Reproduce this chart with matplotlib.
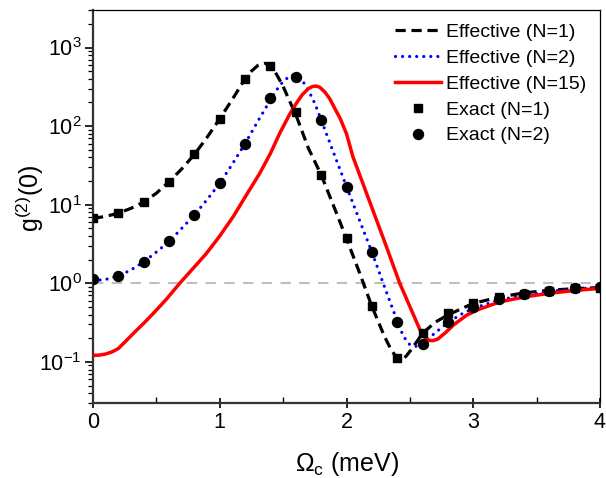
import matplotlib
matplotlib.use("Agg")
import matplotlib.pyplot as plt
from matplotlib.ticker import LogLocator, MultipleLocator, NullFormatter

plt.rcParams['font.family'] = ['Liberation Sans', 'DejaVu Sans']
plt.rcParams['mathtext.fontset'] = 'custom'
plt.rcParams['mathtext.rm'] = 'Liberation Sans'
plt.rcParams['mathtext.it'] = 'Liberation Sans:italic'

# Effective N=1 (dashed black)
x_eff1 = [0, 0.1, 0.2, 0.3, 0.4, 0.5, 0.6, 0.7, 0.8, 0.9, 1.0, 1.1, 1.2, 1.25, 1.3, 1.35,
          1.4, 1.45, 1.5, 1.55, 1.6, 1.7, 1.8, 1.9, 2.0, 2.1, 2.2, 2.3, 2.35, 2.4, 2.43,
          2.47, 2.52, 2.6, 2.7, 2.8, 2.9, 3.0, 3.2, 3.4, 3.6, 3.8, 4.0]
y_eff1 = [6.7, 7.1, 7.8, 9.0, 10.8, 14.0, 19.6, 28.5, 43.6, 72, 124, 220, 400, 500, 590, 630,
          600, 450, 320, 210, 140, 52, 24, 9.5, 3.7, 1.4, 0.51, 0.21, 0.145, 0.11, 0.106,
          0.118, 0.15, 0.231, 0.32, 0.395, 0.47, 0.555, 0.665, 0.755, 0.815, 0.855, 0.88]

# Effective N=2 (dotted blue)
x_eff2 = [0, 0.1, 0.2, 0.3, 0.4, 0.5, 0.6, 0.7, 0.8, 0.9, 1.0, 1.1, 1.2, 1.3, 1.4, 1.45,
          1.5, 1.55, 1.58, 1.62, 1.68, 1.75, 1.8, 1.9, 2.0, 2.1, 2.2, 2.3, 2.4, 2.45, 2.5,
          2.55, 2.6, 2.7, 2.8, 2.9, 3.0, 3.2, 3.4, 3.6, 3.8, 4.0]
y_eff2 = [1.08, 1.12, 1.24, 1.48, 1.87, 2.5, 3.4, 5.0, 7.4, 11.6, 18.7, 33, 60, 115, 215, 290,
          370, 430, 447, 425, 330, 195, 120, 45, 17, 6.5, 2.5, 0.9, 0.33, 0.21, 0.165,
          0.158, 0.17, 0.235, 0.316, 0.4, 0.48, 0.61, 0.71, 0.79, 0.85, 0.88]

# Effective N=15 (solid red)
x_eff15 = [0, 0.05, 0.1, 0.15, 0.2, 0.25, 0.316, 0.4, 0.473, 0.58, 0.684, 0.79, 0.894, 1.0,
           1.105, 1.2, 1.315, 1.4, 1.473, 1.55, 1.604, 1.65, 1.7, 1.73, 1.757, 1.79, 1.83,
           1.867, 1.91, 1.95, 2.0, 2.05, 2.2, 2.3, 2.42, 2.5, 2.58, 2.62, 2.65, 2.68, 2.72,
           2.78, 2.85, 2.95, 3.05, 3.21, 3.4, 3.6, 3.8, 4.0]
y_eff15 = [0.121, 0.122, 0.126, 0.134, 0.148, 0.178, 0.228, 0.31, 0.41, 0.63, 1.0, 1.55, 2.39, 4.0,
           7.0, 12.5, 25, 45, 81, 140, 195, 250, 300, 318, 324, 312, 270,
           224, 165, 125, 80, 41, 9.2, 3.4, 1.0, 0.506, 0.255, 0.205, 0.188, 0.186, 0.195,
           0.235, 0.3, 0.395, 0.47, 0.58, 0.67, 0.746, 0.81, 0.863]

# Exact N=1 (squares)
x_ex1 = [0, 0.2, 0.4, 0.6, 0.8, 1.0, 1.2, 1.4, 1.6, 1.8, 2.0, 2.2, 2.4, 2.6, 2.8,
         3.0, 3.2, 3.4, 3.6, 3.8, 4.0]
y_ex1 = [6.8, 7.8, 10.8, 19.6, 43.6, 124, 400, 590, 152, 24, 3.8, 0.51, 0.113, 0.233, 0.415,
         0.567, 0.66, 0.73, 0.80, 0.86, 0.88]

# Exact N=2 (circles)
x_ex2 = [0, 0.2, 0.4, 0.6, 0.8, 1.0, 1.2, 1.4, 1.6, 1.8, 2.0, 2.2, 2.4, 2.6, 2.8,
         3.0, 3.2, 3.4, 3.6, 3.8, 4.0]
y_ex2 = [1.12, 1.24, 1.88, 3.45, 7.4, 18.7, 60, 230, 425, 120, 17, 2.5, 0.325, 0.168, 0.325,
         0.50, 0.625, 0.725, 0.805, 0.863, 0.89]

fig = plt.figure(figsize=(6.06, 4.78), dpi=100)
ax = fig.add_axes([93/606, 75/478, 507/606, 393/478])

ax.axhline(1.0, color='#bfbfbf', lw=1.5, ls=(0, (5, 4)), zorder=1)

ax.plot(x_eff1, y_eff1, color='black', lw=2.3, ls=(0, (3.2, 1.8)), label='Effective (N=1)', zorder=3)
ax.plot(x_eff2, y_eff2, color='#0000ff', lw=2.3, ls=(0, (0.01, 2.2)), dash_capstyle='round',
        label='Effective (N=2)', zorder=3)
ax.plot(x_eff15, y_eff15, color='#ff0000', lw=2.5, ls='-', label='Effective (N=15)', zorder=3)
ax.plot(x_ex1, y_ex1, ls='none', marker='s', ms=5.6, color='black', label='Exact (N=1)', zorder=4)
ax.plot(x_ex2, y_ex2, ls='none', marker='o', ms=7.2, color='black', label='Exact (N=2)', zorder=4)

ax.set_yscale('log')
ax.set_xlim(0, 4)
ax.set_ylim(0.03, 3000)

ax.xaxis.set_major_locator(MultipleLocator(1))
ax.xaxis.set_minor_locator(MultipleLocator(0.5))
ax.yaxis.set_major_locator(LogLocator(base=10, numticks=20))
ax.yaxis.set_minor_locator(LogLocator(base=10, subs=range(2, 10), numticks=20))
ax.yaxis.set_minor_formatter(NullFormatter())

ax.tick_params(axis='x', which='major', direction='inout', length=7, width=1.2, labelsize=15.5, pad=3)
ax.tick_params(axis='x', which='minor', direction='in', length=4, width=1.0)
ax.tick_params(axis='y', which='major', direction='out', length=6, width=1.2, labelsize=15.5, pad=2)
ax.tick_params(axis='y', which='minor', direction='out', length=3.5, width=0.9)

for s in ['left', 'bottom']:
    ax.spines[s].set_linewidth(1.6)
    ax.spines[s].set_color('#333333')
for s in ['right', 'top']:
    ax.spines[s].set_linewidth(0.9)
    ax.spines[s].set_color('black')

ax.set_xlabel(r'$\Omega_\mathrm{c}$ (meV)', fontsize=18, labelpad=12)
ax.set_ylabel(r'g$^{(2)}$(0)', fontsize=18)
ax.yaxis.set_label_coords(-0.092, 0.52)

leg = ax.legend(loc='upper right', frameon=False, fontsize=14, handlelength=2.4,
                handletextpad=0.25, labelspacing=0.42, borderaxespad=0.4, borderpad=0.3)

fig.savefig('out.png', dpi=100)
